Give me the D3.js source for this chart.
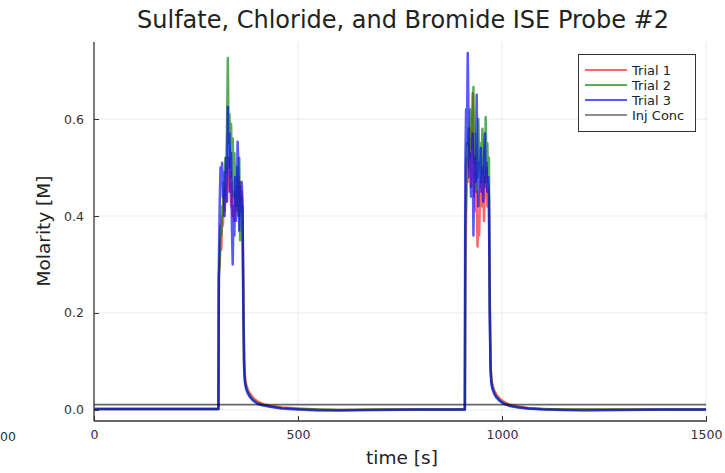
<!DOCTYPE html>
<html><head><meta charset="utf-8">
<script src="https://cdn.jsdelivr.net/npm/d3@7"></script>
<style>body{margin:0;background:#fff}svg text{font-family:"DejaVu Sans",sans-serif}</style>
</head><body><svg id="c" width="725" height="473"></svg>
<script>
const chartTitle = "Sulfate, Chloride, and Bromide ISE Probe #2";
const xLabel = "time [s]";
const yLabel = "Molarity [M]";
const xTicks = [0, 500, 1000, 1500];
const yTicks = [0.0, 0.2, 0.4, 0.6];
const seriesNames = ["Trial 1", "Trial 2", "Trial 3", "Inj Conc"];
const injConc = 0.011;

// time stamps [s]
const preTime = [0, 100, 200, 300, 305];
const peak1Time = d3.range(306, 366, 2);
const tail1Time = [366, 368, 370, 373, 377, 382, 390, 400, 415, 435, 460, 500, 550, 600, 700, 800, 900, 909];
const peak2Time = d3.range(910, 970, 2);
const tail2Time = [970, 972, 974, 977, 981, 986, 994, 1004, 1019, 1039, 1064, 1100, 1150, 1200, 1300, 1400, 1500];

// Trial 1 (red)
const trial1Pre = [0.002, 0.002, 0.002, 0.002, 0.002];
const trial1Peak1 = [0.28, 0.30, 0.35, 0.33, 0.40, 0.38, 0.44, 0.41, 0.46, 0.43, 0.50, 0.47, 0.52, 0.45, 0.49, 0.42, 0.47, 0.40, 0.45, 0.39, 0.44, 0.41, 0.46, 0.43, 0.48, 0.40, 0.47, 0.42, 0.45, 0.40];
const trial1Tail1 = [0.26, 0.10, 0.068, 0.052, 0.042, 0.034, 0.025, 0.018, 0.012, 0.008, 0.005, 0.003, 0.001, 0.0, 0.001, 0.001, 0.001, 0.001];
const trial1Peak2 = [0.25, 0.40, 0.52, 0.47, 0.55, 0.50, 0.58, 0.46, 0.56, 0.653, 0.50, 0.44, 0.52, 0.41, 0.45, 0.337, 0.40, 0.36, 0.44, 0.47, 0.42, 0.50, 0.45, 0.39, 0.48, 0.44, 0.50, 0.42, 0.46, 0.41];
const trial1Tail2 = [0.24, 0.095, 0.065, 0.05, 0.04, 0.032, 0.024, 0.017, 0.011, 0.007, 0.004, 0.002, 0.001, 0.001, 0.001, 0.001, 0.001];

// Trial 2 (green)
const trial2Pre = [0.002, 0.002, 0.002, 0.002, 0.002];
const trial2Peak1 = [0.27, 0.31, 0.38, 0.36, 0.42, 0.40, 0.47, 0.44, 0.52, 0.49, 0.58, 0.726, 0.55, 0.61, 0.50, 0.59, 0.48, 0.56, 0.44, 0.53, 0.47, 0.42, 0.50, 0.46, 0.40, 0.52, 0.35, 0.44, 0.38, 0.42];
const trial2Tail1 = [0.22, 0.09, 0.06, 0.046, 0.037, 0.029, 0.021, 0.015, 0.010, 0.007, 0.004, 0.002, 0.001, 0.0, 0.001, 0.001, 0.001, 0.001];
const trial2Peak2 = [0.38, 0.45, 0.55, 0.50, 0.58, 0.52, 0.62, 0.54, 0.60, 0.57, 0.666, 0.51, 0.57, 0.45, 0.53, 0.48, 0.60, 0.50, 0.55, 0.47, 0.52, 0.58, 0.49, 0.54, 0.46, 0.604, 0.50, 0.55, 0.47, 0.52];
const trial2Tail2 = [0.21, 0.085, 0.058, 0.045, 0.036, 0.028, 0.02, 0.014, 0.009, 0.006, 0.003, 0.002, 0.001, 0.001, 0.001, 0.001, 0.001];

// Trial 3 (blue)
const trial3Pre = [0.002, 0.002, 0.002, 0.002, 0.002];
const trial3Peak1 = [0.30, 0.42, 0.50, 0.47, 0.51, 0.44, 0.49, 0.40, 0.46, 0.52, 0.43, 0.625, 0.50, 0.57, 0.45, 0.53, 0.38, 0.30, 0.42, 0.36, 0.48, 0.39, 0.44, 0.553, 0.50, 0.37, 0.46, 0.41, 0.47, 0.43];
const trial3Tail1 = [0.20, 0.085, 0.056, 0.043, 0.034, 0.027, 0.019, 0.013, 0.009, 0.006, 0.003, 0.001, -0.001, -0.001, 0.0, 0.001, 0.001, 0.001];
const trial3Peak2 = [0.50, 0.62, 0.55, 0.736, 0.60, 0.48, 0.53, 0.44, 0.50, 0.57, 0.36, 0.52, 0.47, 0.55, 0.650, 0.49, 0.42, 0.51, 0.46, 0.54, 0.45, 0.49, 0.43, 0.52, 0.57, 0.47, 0.51, 0.45, 0.48, 0.44];
const trial3Tail2 = [0.19, 0.08, 0.054, 0.042, 0.033, 0.026, 0.019, 0.013, 0.008, 0.005, 0.003, 0.001, 0.0, -0.001, 0.0, 0.001, 0.001];

const time = [...preTime, ...peak1Time, ...tail1Time, ...peak2Time, ...tail2Time];
const trial1 = [...trial1Pre, ...trial1Peak1, ...trial1Tail1, ...trial1Peak2, ...trial1Tail2];
const trial2 = [...trial2Pre, ...trial2Peak1, ...trial2Tail1, ...trial2Peak2, ...trial2Tail2];
const trial3 = [...trial3Pre, ...trial3Peak1, ...trial3Tail1, ...trial3Peak2, ...trial3Tail2];

const colors = ["#ff0000", "#008000", "#0000ff", "#000000"];
const opac = [0.6, 0.65, 0.65, 0.6];

const svg = d3.select("#c");
const L = 94, R = 707, T = 42, B = 421;
const x = d3.scaleLinear().domain([0, 1500]).range([94, 706]);
const y = d3.scaleLinear().domain([-0.0227, 0.7588]).range([B, T]);

// grid
const g = svg.append("g");
g.selectAll(".vg").data(xTicks.filter(d => d > 0)).enter().append("line")
  .attr("x1", d => x(d)).attr("x2", d => x(d)).attr("y1", T).attr("y2", B)
  .attr("stroke", "#000").attr("stroke-opacity", 0.08).attr("stroke-width", 1);
g.selectAll(".hg").data(yTicks).enter().append("line")
  .attr("x1", L).attr("x2", R).attr("y1", d => y(d)).attr("y2", d => y(d))
  .attr("stroke", "#000").attr("stroke-opacity", 0.08).attr("stroke-width", 1);

// series
const line = d3.line().x(d => x(d[0])).y(d => y(d[1]));
[trial1, trial2, trial3].forEach((vals, i) => {
  svg.append("path").datum(time.map((t, k) => [t, vals[k]]))
    .attr("d", line).attr("fill", "none")
    .attr("stroke", colors[i]).attr("stroke-opacity", opac[i])
    .attr("stroke-width", 2.5).attr("stroke-linejoin", "round");
});
svg.append("path").datum([[0, injConc], [1500, injConc]])
  .attr("d", line).attr("fill", "none")
  .attr("stroke", colors[3]).attr("stroke-opacity", opac[3]).attr("stroke-width", 1.6);

// axes
const xAxis = d3.axisBottom(x).tickValues(xTicks).tickSize(-5).tickPadding(9).tickFormat(d3.format("d"));
const xa = svg.append("g").attr("transform", `translate(0,${B})`).call(xAxis);
xa.select(".domain").attr("d", `M${L},0H${R}`).attr("stroke", "#333").attr("stroke-width", 1.3);
const yAxis = d3.axisLeft(y).tickValues(yTicks).tickSize(-5).tickPadding(10).tickFormat(d3.format(".1f"));
const ya = svg.append("g").attr("transform", `translate(${L},0)`).call(yAxis);
ya.select(".domain").attr("d", `M0,${T}V${B}`).attr("stroke", "#333").attr("stroke-width", 1.3);
svg.selectAll(".tick line").attr("stroke", "#333");
svg.selectAll(".tick text").attr("font-family", "DejaVu Sans").attr("font-size", 12.5).attr("fill", "#333");

// titles
svg.append("text").attr("x", 403).attr("y", 28).attr("text-anchor", "middle")
  .attr("font-size", 24).attr("fill", "#222").text(chartTitle);
svg.append("text").attr("x", 402).attr("y", 464).attr("text-anchor", "middle")
  .attr("font-size", 18.5).attr("fill", "#222").text(xLabel);
svg.append("text").attr("transform", "translate(50,231) rotate(-90)").attr("text-anchor", "middle")
  .attr("font-size", 18.5).attr("fill", "#222").text(yLabel);

// legend
const lg = svg.append("g");
lg.append("rect").attr("x", 578.5).attr("y", 54.5).attr("width", 117).attr("height", 77)
  .attr("fill", "#fff").attr("stroke", "#333").attr("stroke-width", 1);
seriesNames.forEach((n, i) => {
  const yy = 70 + i * 15;
  lg.append("line").attr("x1", 585).attr("x2", 627).attr("y1", yy).attr("y2", yy)
    .attr("stroke", colors[i]).attr("stroke-opacity", opac[i]).attr("stroke-width", i < 3 ? 2.2 : 1.6);
  lg.append("text").attr("x", 632).attr("y", yy).attr("dy", "0.35em")
    .attr("font-size", 13).attr("fill", "#222").text(n);
});

// remnant of neighbouring figure at left edge
svg.append("text").attr("x", 0).attr("y", 441)
  .attr("font-size", 12.5).attr("fill", "#333").text("00");
</script></body></html>
